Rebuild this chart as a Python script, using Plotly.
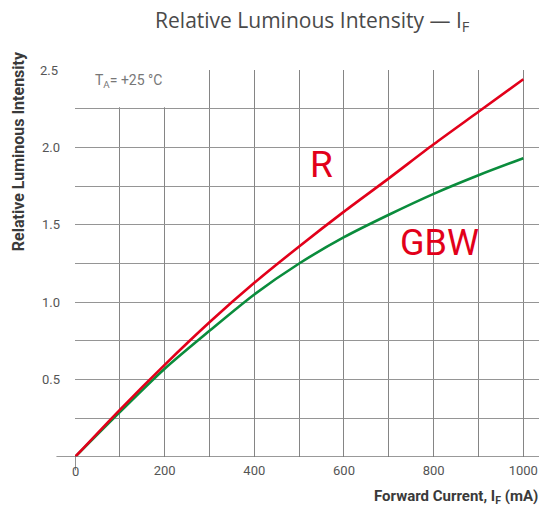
import plotly.graph_objects as go

# --- data ---
current_r = [0, 100, 200, 300, 400, 500, 600, 700, 800, 900, 1000]
intensity_r = [0, 0.305, 0.595, 0.87, 1.125, 1.36, 1.585, 1.80, 2.02, 2.23, 2.44]

current_gbw = [0, 100, 200, 300, 400, 500, 600, 700, 800, 900, 1000]
intensity_gbw = [0, 0.29, 0.57, 0.815, 1.05, 1.25, 1.42, 1.565, 1.70, 1.82, 1.93]

# labelled ticks and the extra (unlabelled) grid lines
x_ticks = [200, 400, 600, 800, 1000]
x_minor = [0, 100, 300, 500, 700, 900]
y_ticks = [0.5, 1.0, 1.5, 2.0]
y_tick_text = ["0.5", "1.0", "1.5", "2.0"]
y_minor = [0.25, 0.75, 1.25, 1.75, 2.25]

RED = "#e2001a"
GREEN = "#0a8c3c"
FONT = "Roboto"

fig = go.Figure()

fig.add_trace(go.Scatter(x=current_gbw, y=intensity_gbw, mode="lines", name="GBW",
                         line=dict(color=GREEN, width=2.6, shape="spline", smoothing=0.8)))
fig.add_trace(go.Scatter(x=current_r, y=intensity_r, mode="lines", name="R",
                         line=dict(color=RED, width=2.6, shape="spline", smoothing=0.8)))

fig.update_layout(
    width=543, height=509,
    margin=dict(l=75, r=4, t=70, b=52),
    paper_bgcolor="white", plot_bgcolor="white",
    showlegend=False,
    font=dict(family=FONT, color="#555"),
    title=dict(text="Relative Luminous Intensity — I<sub>F</sub>", x=0.575, xanchor="center",
               y=0.96, yanchor="middle",
               font=dict(family="Open Sans", size=21, color="#4a4a4a")),
)

fig.update_xaxes(range=[0, 1035], tickvals=x_ticks, ticktext=[str(v) for v in x_ticks],
                 automargin=False, showgrid=True, gridcolor="#858585", gridwidth=1.4,
                 minor=dict(tickvals=x_minor, showgrid=True, gridcolor="#858585",
                            gridwidth=1.4, ticks=""),
                 zeroline=False, showline=False, ticks="",
                 ticklabelstandoff=4, tickfont=dict(size=13, color="#555"))
fig.update_yaxes(range=[0, 2.5], tickvals=y_ticks, ticktext=y_tick_text,
                 automargin=False, showgrid=True, gridcolor="#959595", gridwidth=1.4,
                 minor=dict(tickvals=y_minor, showgrid=True, gridcolor="#959595",
                            gridwidth=1.4, ticks=""),
                 zeroline=False, showline=False, ticks="",
                 ticklabelstandoff=14, tickfont=dict(size=13, color="#555"))

# clear box behind the temperature note (grid cells 0-300 above 2.25 are empty)
fig.add_shape(type="rect", xref="x", yref="y", x0=4, x1=296, y0=2.259, y1=2.5,
              fillcolor="white", line=dict(width=0), layer="between")
# x axis baseline (extends left of the y axis) and tick below 0
fig.add_shape(type="line", xref="paper", yref="y", x0=-0.04, x1=1, y0=0, y1=0,
              line=dict(color="#777", width=1.6))
fig.add_shape(type="line", xref="x", yref="paper", x0=0, x1=0, y0=0, y1=-0.034,
              line=dict(color="#777", width=1.6))

annotations = [
    dict(x=0, y=-0.062, xref="x", yref="paper", text="0", showarrow=False,
         font=dict(size=13, color="#555")),
    dict(x=-0.032, y=2.5, xref="paper", yref="y", text="2.5", showarrow=False,
         xanchor="right", yanchor="middle", font=dict(size=13, color="#555")),
    dict(x=1.002, y=-0.103, xref="paper", yref="paper", xanchor="right", yanchor="middle",
         text="<b>Forward Current, I<sub>F</sub> (mA)</b>", showarrow=False,
         font=dict(size=15, color="#3a3a3a")),
    dict(x=-0.123, y=0.79, xref="paper", yref="paper", xanchor="center", yanchor="middle",
         textangle=-90, text="<b>Relative Luminous Intensity</b>", showarrow=False,
         font=dict(size=16, color="#3a3a3a")),
    dict(x=40, y=2.43, xref="x", yref="y", xanchor="left", yanchor="middle",
         text="T<sub>A</sub>= +25 °C", showarrow=False,
         font=dict(size=14, color="#777")),
    dict(x=550, y=1.89, xref="x", yref="y", text="R", showarrow=False,
         font=dict(size=37, color=RED)),
    dict(x=812, y=1.38, xref="x", yref="y", text="GBW", showarrow=False,
         font=dict(size=36, color=RED)),
]
fig.update_layout(annotations=annotations)

fig.write_html("out.html", config={"displayModeBar": False})

# drop the default 8px page margin so the figure sits at the window's corner
with open("out.html", encoding="utf-8") as f:
    page = f.read()
page = page.replace("<head>", "<head><style>body{margin:0;}</style>", 1)
with open("out.html", "w", encoding="utf-8") as f:
    f.write(page)
